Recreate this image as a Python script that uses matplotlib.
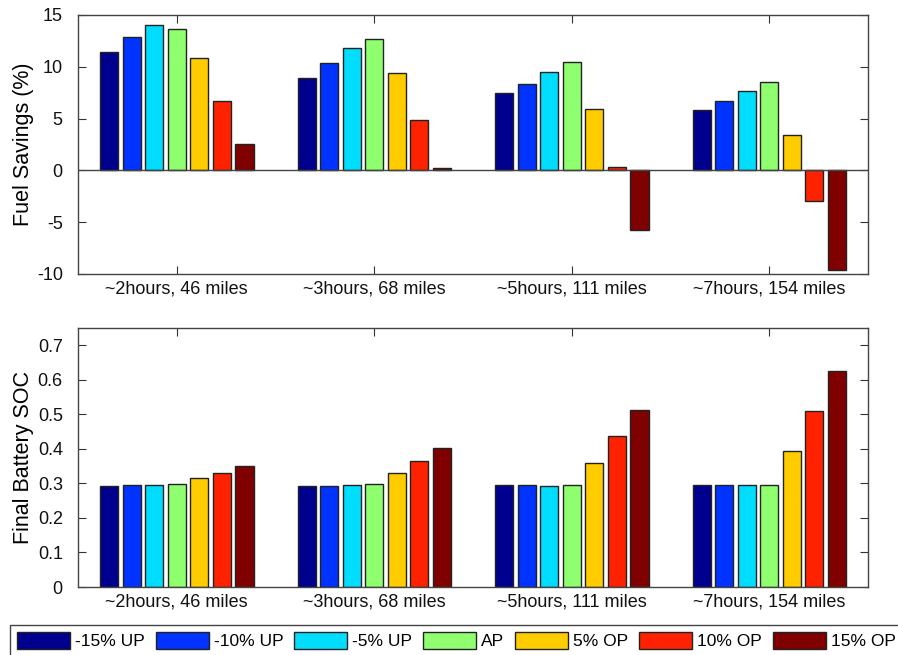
import numpy as np
import matplotlib.pyplot as plt
from matplotlib.patches import Patch

plt.rcParams['font.family'] = ['Liberation Sans', 'DejaVu Sans']
plt.rcParams['axes.unicode_minus'] = False

# data
trips = ['~2hours, 46 miles', '~3hours, 68 miles', '~5hours, 111 miles', '~7hours, 154 miles']
strategies = ['-15% UP', '-10% UP', '-5% UP', 'AP', '5% OP', '10% OP', '15% OP']
colors = ['#00008F', '#0033FF', '#00DDFF', '#8FFF70', '#FFCC00', '#FF2200', '#800000']

# fuel savings (%) per strategy, one value per trip
fuel_m15 = [11.4, 8.9, 7.46, 5.85]
fuel_m10 = [12.9, 10.39, 8.36, 6.69]
fuel_m5 = [14.05, 11.86, 9.49, 7.62]
fuel_ap = [13.67, 12.64, 10.51, 8.49]
fuel_p5 = [10.87, 9.39, 5.95, 3.38]
fuel_p10 = [6.72, 4.82, 0.35, -2.93]
fuel_p15 = [2.54, 0.26, -5.72, -9.65]

# final battery SOC per strategy
soc_m15 = [0.2925, 0.2925, 0.296, 0.296]
soc_m10 = [0.296, 0.2925, 0.296, 0.296]
soc_m5 = [0.296, 0.296, 0.2925, 0.296]
soc_ap = [0.299, 0.299, 0.296, 0.296]
soc_p5 = [0.315, 0.330, 0.360, 0.395]
soc_p10 = [0.330, 0.364, 0.436, 0.509]
soc_p15 = [0.349, 0.403, 0.513, 0.626]

fuel = [fuel_m15, fuel_m10, fuel_m5, fuel_ap, fuel_p5, fuel_p10, fuel_p15]
soc = [soc_m15, soc_m10, soc_m5, soc_ap, soc_p5, soc_p10, soc_p15]

fig = plt.figure(figsize=(8.98, 6.55), dpi=100)
ax1 = fig.add_axes([0.0869, 0.5817, 0.8797, 0.3954])
ax2 = fig.add_axes([0.0869, 0.1038, 0.8797, 0.3954])

x = np.arange(1, len(trips) + 1)
n = len(strategies)
step = min(0.8, n / (n + 1.5)) / n
width = step * 0.8


def grouped(ax, series):
    for i, vals in enumerate(series):
        offs = (i - (n - 1) / 2) * step
        ax.bar(x + offs, vals, width, color=colors[i], edgecolor='#222222',
               linewidth=1.0, zorder=2)
    ax.set_xlim(0.5, 4.5)
    ax.set_xticks(x)
    ax.set_xticklabels(trips)
    ax.tick_params(direction='in', length=6, top=True, right=True,
                   labelsize=13, colors='#333333', labelcolor='#111111')
    ax.tick_params(axis='x', pad=5)
    ax.tick_params(axis='y', pad=11)
    for s in ax.spines.values():
        s.set_color('#444444')
        s.set_linewidth(1.0)


grouped(ax1, fuel)
ax1.axhline(0, color='#444444', linewidth=1.0, zorder=3)
ax1.set_ylim(-10, 15)
ax1.set_yticks([-10, -5, 0, 5, 10, 15])
ax1.set_ylabel('Fuel Savings (%)', fontsize=15.5)

grouped(ax2, soc)
ax2.set_ylim(0, 0.75)
ax2.set_yticks(np.arange(0, 0.71, 0.1))
ax2.set_yticklabels(['0', '0.1', '0.2', '0.3', '0.4', '0.5', '0.6', '0.7'])
ax2.set_ylabel('Final Battery SOC', fontsize=15.5)

for ax in (ax1, ax2):
    ax.yaxis.set_label_coords(-0.056, 0.5)

handles = [Patch(facecolor=c, edgecolor='#222222', linewidth=1.0) for c in colors]
leg = fig.legend(handles, strategies, loc='upper left', bbox_to_anchor=(0.0111, 0.0458),
                 ncol=7, fontsize=12.5, handlelength=3.05, handleheight=1.15,
                 handletextpad=0.29, columnspacing=0.63, borderpad=0.4,
                 borderaxespad=0, fancybox=False, framealpha=1, edgecolor='#444444')
leg.get_frame().set_linewidth(1.0)

fig.savefig('out.png', dpi=100)
